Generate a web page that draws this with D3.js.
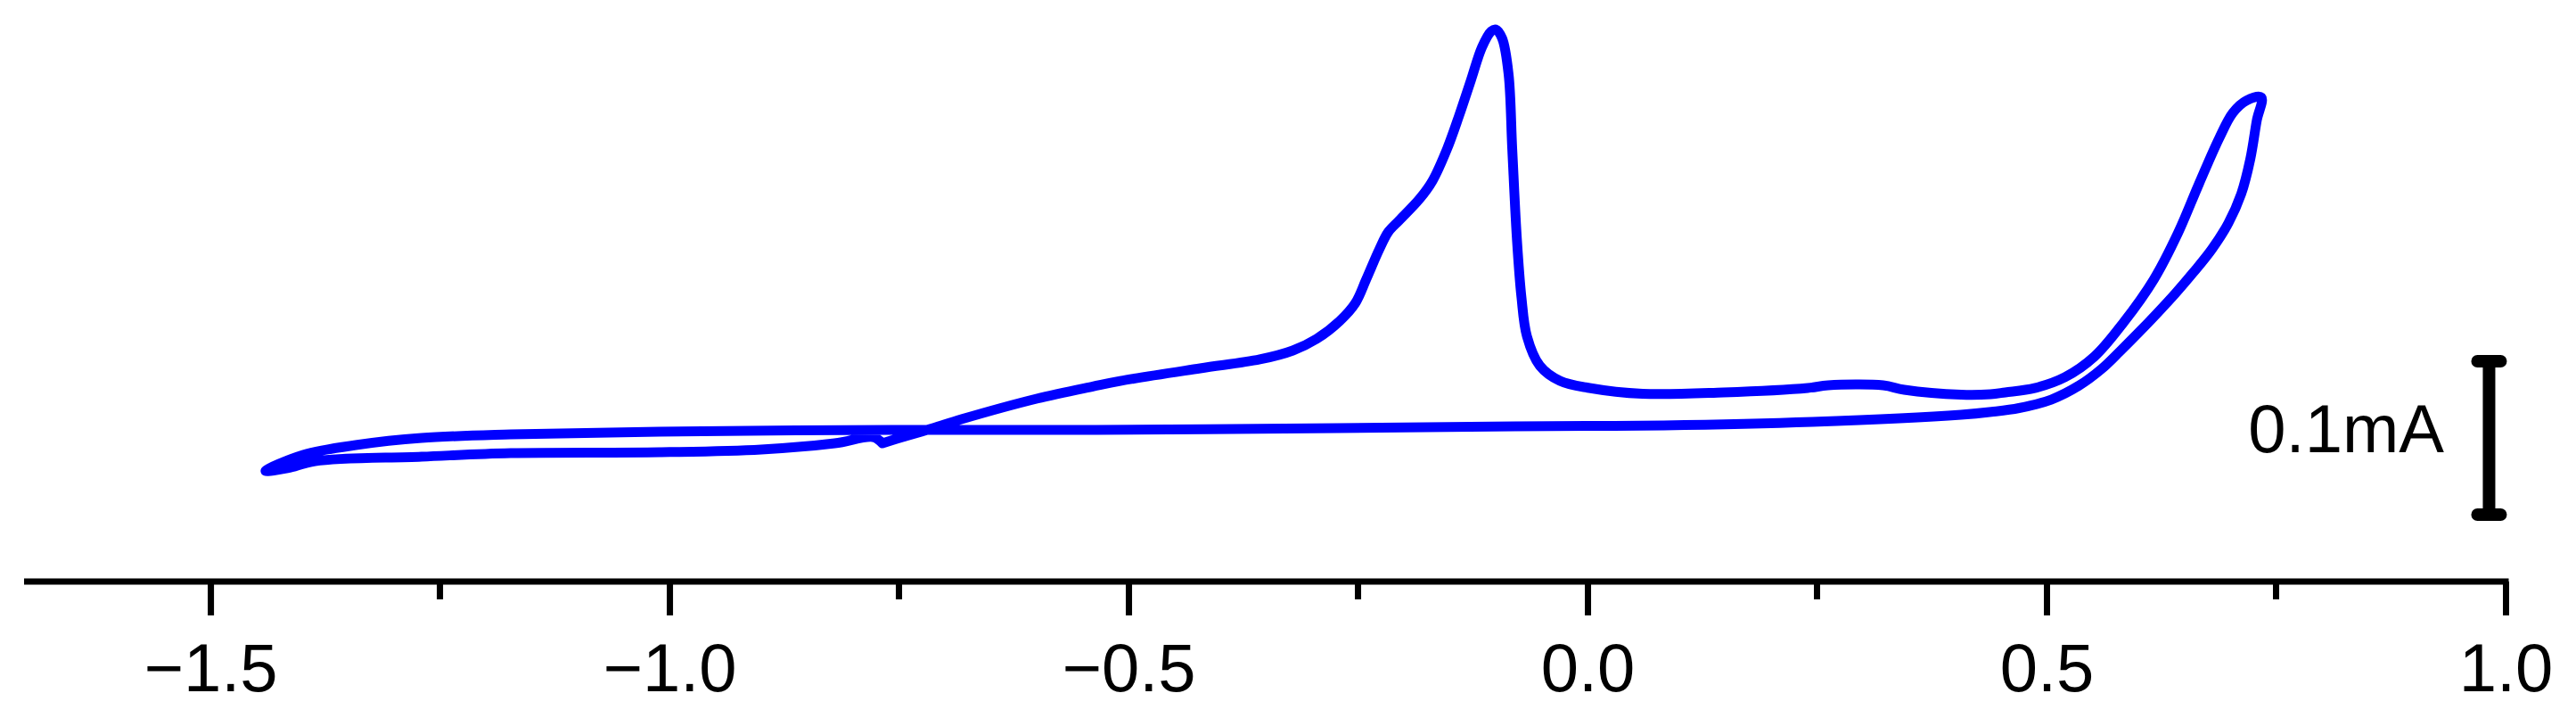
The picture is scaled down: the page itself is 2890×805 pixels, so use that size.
<!DOCTYPE html>
<html>
<head>
<meta charset="utf-8">
<script src="https://cdn.jsdelivr.net/npm/d3@7"></script>
<style>
  html, body { margin: 0; padding: 0; background: #ffffff; }
  svg { display: block; }
</style>
</head>
<body>
<svg id="chart" width="2890" height="805"></svg>
<script>
// ---- Data ----
// Potential (V) and current (µA, relative to the flat return-scan baseline), in scan order
const potential = [
  -0.768, -0.746, -0.713, -0.682, -0.600, -0.538, -0.509, -0.422, -0.357,
  -0.321, -0.295, -0.270, -0.253, -0.241, -0.227, -0.217, -0.205, -0.183, -0.169,
  -0.153, -0.140, -0.127, -0.115, -0.105, -0.100, -0.093, -0.086, -0.082, -0.077,
  -0.072, -0.066, -0.052, -0.030, 0.002, 0.060, 0.148, 0.240, 0.262, 0.322,
  0.345, 0.407, 0.439, 0.455, 0.487, 0.520, 0.552, 0.584, 0.617, 0.643,
  0.666, 0.688, 0.703, 0.718, 0.734,
  0.729, 0.722, 0.712, 0.698, 0.680, 0.660, 0.640, 0.620, 0.600, 0.580,
  0.560, 0.535, 0.505, 0.470, 0.440, 0.407, 0.245, 0.083, -0.079, -0.273,
  -0.535, -0.758, -1.011, -1.173, -1.270, -1.340, -1.399, -1.440,
  -1.416, -1.386, -1.270, -1.173, -1.011, -0.900, -0.820, -0.778, -0.768
];
const current = [
  -10.5, -6.4, -0.6, 5.2, 18.6, 26.7, 30.2, 38.4, 44.2,
  50.0, 57.6, 69.2, 80.8, 96.5, 115.7, 127.3, 134.9, 148.8, 160.5,
  181.4, 202.9, 226.2, 247.7, 258.1, 259.3, 253.5, 230.2, 181.4, 123.3,
  84.9, 59.3, 40.1, 30.2, 25.6, 21.8, 22.7, 25.6, 27.3, 27.3,
  24.4, 21.2, 21.5, 22.7, 25.5, 32.6, 46.0, 68.4, 96.5, 126.4,
  158.6, 188.3, 205.0, 213.0, 215.0,
  200.0, 175.0, 152.0, 133.0, 116.0, 101.0, 87.0, 74.0, 61.5, 49.5,
  38.0, 27.0, 18.0, 12.5, 10.0, 8.1, 3.5, 1.2, 0.6, -0.6,
  -1.7, -1.7, -2.9, -4.7, -7.0, -11.5, -18.0, -28.5,
  -26.7, -22.1, -19.2, -16.9, -16.3, -14.5, -10.5, -6.4, -10.5
];
const majorTicks = [-1.5, -1.0, -0.5, 0.0, 0.5, 1.0];
const minorTicks = [-1.25, -0.75, -0.25, 0.25, 0.75];
const scaleBarValue = 0.1;     // mA
const scaleBarLabel = "0.1mA";

// ---- Layout ----
const svg = d3.select("#chart");
const W = 2890, H = 805;
svg.append("rect").attr("width", W).attr("height", H).attr("fill", "#ffffff");

const x = d3.scaleLinear().domain([-1.703, 1.0]).range([27, 2811]);
const y = d3.scaleLinear().domain([0, 100]).range([479, 307]);   // µA
const axisY = 652;
const font = "'Liberation Sans', Arial, Helvetica, sans-serif";

const pts = potential.map((e, i) => ({ e, i: current[i] }));

// ---- CV curve ----
const line = d3.line()
  .x(d => x(d.e))
  .y(d => y(d.i))
  .curve(d3.curveCatmullRom.alpha(0.5));

svg.append("path")
  .datum(pts)
  .attr("d", line)
  .attr("fill", "none")
  .attr("stroke", "#0000ff")
  .attr("stroke-width", 11)
  .attr("stroke-linejoin", "round")
  .attr("stroke-linecap", "round");

// ---- X axis ----
const gAxis = svg.append("g").attr("transform", `translate(0,${axisY})`);
const axisMajor = d3.axisBottom(x)
  .tickValues(majorTicks)
  .tickSize(38)
  .tickSizeOuter(0)
  .tickPadding(0)
  .tickFormat(d3.format(".1f"));
gAxis.call(axisMajor);
gAxis.select(".domain")
  .attr("stroke", "#000").attr("stroke-width", 7)
  .attr("d", `M${x.range()[0]},0H${x.range()[1] + 3.5}`);
gAxis.selectAll(".tick line").attr("stroke", "#000").attr("stroke-width", 7);
gAxis.selectAll(".tick text")
  .attr("y", 123).attr("dy", 0)
  .attr("fill", "#000")
  .style("font-family", font)
  .style("font-size", "76px");

const gMinor = svg.append("g").attr("transform", `translate(0,${axisY})`);
gMinor.selectAll("line").data(minorTicks).join("line")
  .attr("x1", d => x(d)).attr("x2", d => x(d))
  .attr("y1", 0).attr("y2", 20)
  .attr("stroke", "#000").attr("stroke-width", 7);

// ---- Scale bar (0.1 mA) ----
const barX = x(0.982);
const barBottom = -57;                       // µA
const barTop = barBottom + scaleBarValue * 1000;
const gBar = svg.append("g")
  .attr("stroke", "#000").attr("stroke-width", 14).attr("stroke-linecap", "round");
gBar.append("line").attr("x1", barX).attr("x2", barX).attr("y1", y(barTop)).attr("y2", y(barBottom));
gBar.append("line").attr("x1", barX - 13).attr("x2", barX + 13).attr("y1", y(barTop)).attr("y2", y(barTop));
gBar.append("line").attr("x1", barX - 13).attr("x2", barX + 13).attr("y1", y(barBottom)).attr("y2", y(barBottom));

svg.append("text")
  .attr("x", 2742).attr("y", 507)
  .attr("text-anchor", "end")
  .attr("fill", "#000")
  .style("font-family", font)
  .style("font-size", "76px")
  .text(scaleBarLabel);
</script>
</body>
</html>
